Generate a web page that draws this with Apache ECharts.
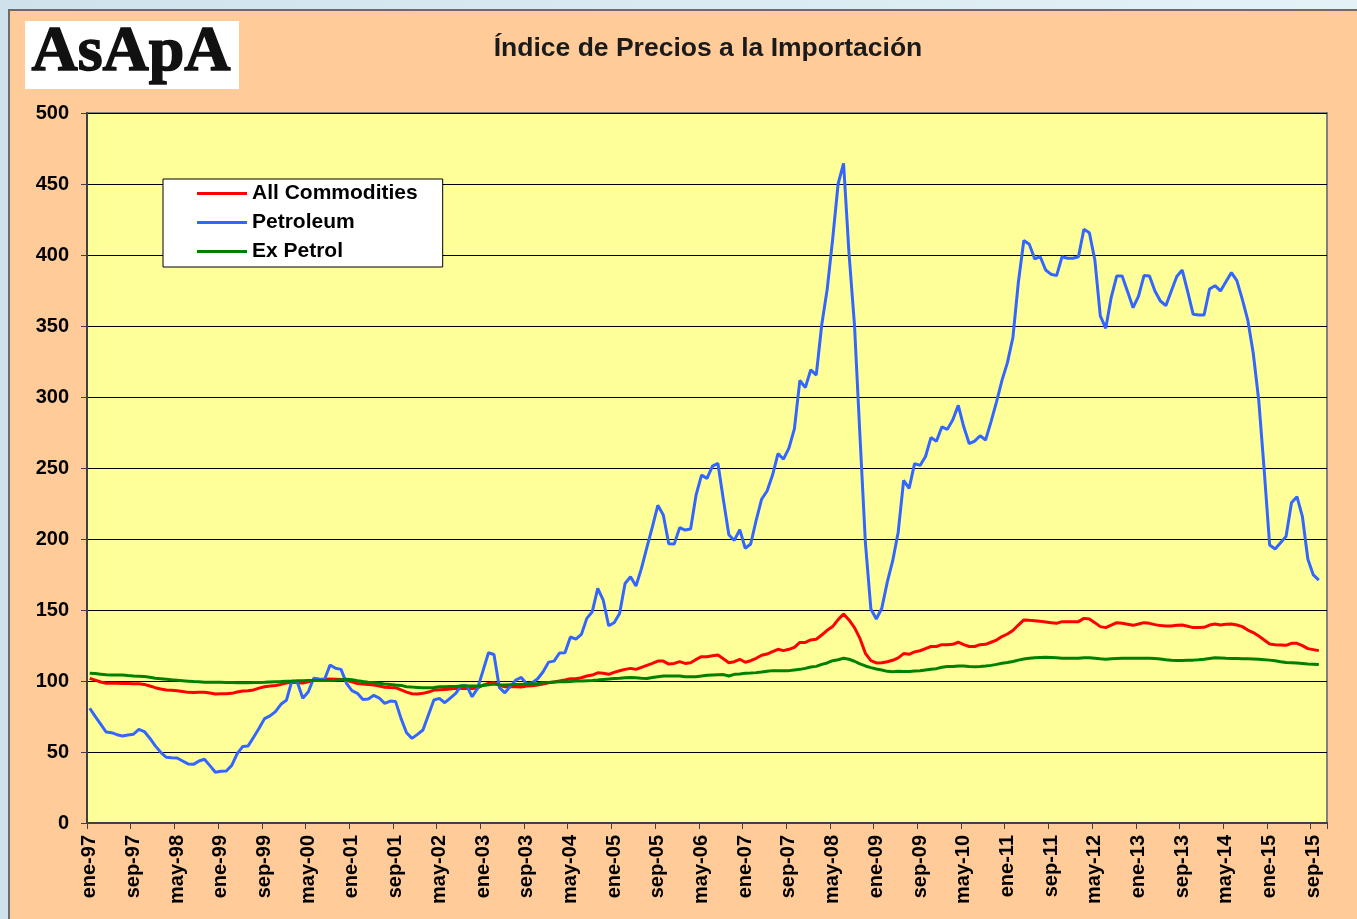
<!DOCTYPE html>
<html>
<head>
<meta charset="utf-8">
<title>Índice de Precios a la Importación</title>
<script src="https://cdn.jsdelivr.net/npm/echarts@6/dist/echarts.min.js"></script>
<style>
	html, body { margin:0; padding:0; width:1357px; height:919px; overflow:hidden; }
	body { background:linear-gradient(to right, #cfe2ec, #e4f2f8); }
	.panel { position:absolute; left:8px; top:9px; width:1360px; height:920px; background:#FFCC99; border:2px solid #6b6b6b; }
	#chart { position:absolute; left:0; top:0; width:1357px; height:919px; }
</style>
</head>
<body>
<div class="panel"></div>
<div id="chart"></div>
<script>
// meses ene-97 ... nov-15 (el ultimo sin dato)
var monthNames = ['ene','feb','mar','abr','may','jun','jul','ago','sep','oct','nov','dic'];
var firstYear = 1997;
var monthCount = 227;

var seriesNames = ['All Commodities','Petroleum','Ex Petrol'];

var allCommodities = [
	101.9,100.6,99.3,98.4,98.4,98.4,98.3,98.2,98.1,98,97.6,96.5,
	95.3,94.4,93.7,93.5,93.1,92.6,92,91.9,92,92,91.5,90.9,
	91,91.1,91.3,92.3,93,93.2,93.7,95,96,96.4,96.9,97.6,
	98.5,99.1,98.8,98.6,99.4,100.5,100.9,101.2,101.4,101.3,101,100.5,
	99.4,98.2,97.8,97.5,97.1,96.5,95.6,95.4,95.3,93.7,92.2,91,
	90.8,91.3,92.2,93.6,93.9,94.1,94.3,94.8,94.8,94.8,94.8,95.1,
	97,98.3,98.8,96.9,96,96,96,95.8,96.4,96.7,97.2,97.9,
	98.8,99.3,100,100.7,101.6,101.6,102.3,103.5,104.2,105.8,105.4,104.7,
	106.1,107.2,108.2,108.9,108.2,109.6,111,112.4,114,114,111.9,112.4,
	113.6,112.4,112.9,115.2,117.1,117.1,117.8,118.3,115.6,112.9,113.6,115.3,
	113.2,114.3,116,118.1,119,120.7,122.3,121.4,122.3,123.7,127.2,127.2,
	128.9,129.4,132.4,135.7,138.3,143.2,147.2,143,137.6,130,119.5,114.3,
	112.7,112.8,113.6,114.6,116.3,119.3,118.8,120.5,121.3,122.8,124.3,124.3,
	125.6,125.6,125.8,127.3,125.6,124.3,124.3,125.6,125.8,127.3,128.8,131.3,
	133.1,135.6,139.4,143,142.7,142.5,142,141.6,141.1,140.6,141.8,141.8,
	141.8,141.8,144.1,143.7,141.1,138.3,137.6,139.4,141.1,140.6,139.9,139.2,
	140.1,141.1,140.6,139.7,139,138.7,138.7,139.2,139.4,138.5,137.6,137.6,
	137.8,139.4,140.1,139.4,139.9,140.1,139.4,138.3,135.9,134.1,131.7,128.9,
	126.1,125.6,125.4,125.1,126.5,126.5,124.9,122.8,122.1,121.4
];

var petroleum = [
	80.8,75.1,69.7,64.1,63.6,62.2,61.3,62,62.5,66,64.4,59.7,
	54.3,49.8,46.3,46,45.8,43.7,41.6,41.3,43.7,44.9,40.4,35.7,
	36.4,36.6,40.6,48.9,53.8,54.3,60.4,66.7,73.5,75.4,78.4,83.6,
	86.4,100,99.3,87.8,92.3,101.9,101.4,101.2,111.3,109,108.2,98.4,
	93.2,91.3,86.9,87.3,89.9,88,84.3,85.9,85.5,73.5,63.6,59.6,
	62.4,65.5,76,86.6,87.8,84.7,88,91.3,96.7,96.7,88.9,94.8,
	107.3,119.9,118.7,95.3,91.7,96.2,100.7,102.5,97.9,98.8,101.6,106.5,
	113.3,114,119.7,119.9,131,129.5,132.8,144.1,148.8,165.2,157,138.9,
	141,147.6,168.7,173.4,166.9,179.3,194.1,208.6,223.7,216.9,196.7,196.4,
	208,206.3,207,231,245,242.7,251.3,253.2,227.6,203,199,206.6,
	193.5,196.5,213.2,228,233.8,245,260.2,256.2,264,277.5,311.7,306.6,
	319.2,315.4,350.7,375.8,411,450,464.6,401,350.7,272.7,197.2,150.7,
	143.7,151.2,169.6,184.7,204.8,241.3,235.7,253.1,251.8,258.1,271.4,268.9,
	279,277.2,284,294.1,279,267.2,268.9,272.7,269.7,282.7,296.6,311.7,
	324.2,341.9,380.8,410.2,407.5,397.2,398.8,389.4,386.4,385.5,398.8,397.7,
	397.7,398.8,418.1,415.7,396.5,357.1,348.4,370.2,385.2,385.2,374.2,362.9,
	371.1,385.5,385.2,374.7,367.6,364.3,374.7,384.8,389.4,374.2,358.2,357.8,
	357.8,376.1,378.4,374.7,381.2,387.6,381.9,368.8,354.2,330.8,297.9,248.6,
	195.8,193,197.4,201.7,225.6,229.8,215.7,185.7,174.7,171.1
];

var exPetrol = [
	105.4,105.2,104.8,104.4,104.3,104.3,104.2,103.8,103.5,103.3,103.1,102.7,
	102,101.6,101.2,100.8,100.5,100.2,99.9,99.6,99.4,99.2,99.1,99.1,
	99.1,99,98.9,98.8,98.8,98.8,98.9,99,99.1,99.3,99.5,99.6,
	99.8,99.9,100.1,100.2,100.3,100.3,100.3,100.3,100.4,100.6,100.9,101.2,
	100.9,100.2,99.6,99.1,98.8,98.4,97.9,97.6,97.2,96.9,96,95.7,
	95.5,95.3,95.3,95.5,96,96,96.2,96.2,96.4,96.4,96.4,96.4,
	96.9,97.4,97.9,97.4,97.2,97.4,97.6,97.6,97.9,98.1,98.3,98.8,
	99,99.3,99.5,99.5,99.7,100,100,100.2,100.4,100.7,101.1,101.4,
	101.8,102,102.3,102.5,102.3,102,101.8,102.5,103,103.5,103.5,103.5,
	103.5,103,103,103,103.5,104,104.2,104.4,104.5,103.5,104.7,104.9,
	105.4,105.6,105.9,106.3,106.8,107.3,107.3,107.3,107.3,107.8,108.2,108.9,
	109.9,110.3,111.7,112.7,114.3,115,116,115.3,113.9,112,110.6,109.4,
	108.5,107.8,106.8,106.6,106.8,106.7,106.7,107,107.2,107.7,108.2,108.7,
	109.7,110.2,110.2,110.5,110.5,110.2,110,110.2,110.5,111,111.7,112.5,
	113,113.7,114.7,115.5,116,116.3,116.5,116.7,116.6,116.3,116,116,
	116,116,116.4,116.4,116,115.6,115.4,115.6,115.8,116,116,116,
	116,116,116,115.8,115.5,115,114.6,114.4,114.4,114.6,114.7,114.9,
	115.3,115.9,116.4,116.2,116,115.9,115.8,115.7,115.6,115.5,115.3,115,
	114.7,114.2,113.6,113.1,112.9,112.6,112.3,112,111.8,111.6
];

var categories = [];
for (var i = 0; i < monthCount; i++) {
	var yy = (firstYear + Math.floor(i / 12)) % 100;
	categories.push(monthNames[i % 12] + '-' + (yy < 10 ? '0' + yy : '' + yy));
}

var fontFam = '"Liberation Sans", Arial, sans-serif';

var myChart = echarts.init(document.getElementById('chart'));
myChart.setOption({
	animation: false,
	graphic: [
		{
			type: 'rect',
			shape: { x: 25, y: 21, width: 214, height: 68 },
			style: { fill: '#ffffff' }
		},
		{
			type: 'text',
			x: 131, y: 53,
			style: {
				text: 'AsApA',
				font: 'bold 64px "Liberation Serif", serif',
				fill: '#111',
				stroke: '#111',
				lineWidth: 1.5,
				align: 'center',
				verticalAlign: 'middle'
			}
		},
		{
			type: 'text',
			x: 708, y: 49,
			style: {
				text: 'Índice de Precios a la Importación',
				font: 'bold 26.5px ' + fontFam,
				fill: '#1a1a1a',
				align: 'center',
				verticalAlign: 'middle'
			}
		}
	],
	legend: {
		left: 163,
		top: 179,
		orient: 'vertical',
		backgroundColor: '#ffffff',
		borderColor: '#000000',
		borderWidth: 1,
		borderRadius: 0,
		padding: [4, 25, 5, 34],
		itemWidth: 50,
		itemHeight: 3,
		itemGap: 8,
		itemTextGap: 8,
		icon: 'rect',
		selectedMode: false,
		textStyle: { fontSize: 21, fontWeight: 'bold', color: '#000', fontFamily: fontFam },
		data: seriesNames
	},
	grid: {
		left: 87, right: 30, top: 113, bottom: 96,
		show: true,
		backgroundColor: '#FFFF99',
		borderColor: '#808080',
		borderWidth: 2
	},
	xAxis: {
		type: 'category',
		data: categories,
		boundaryGap: true,
		axisLine: { lineStyle: { color: '#404040', width: 2 } },
		axisTick: { show: true, interval: 7, length: 6, lineStyle: { color: '#404040', width: 1 } },
		axisLabel: {
			interval: 7,
			rotate: 90,
			margin: 12,
			fontSize: 20,
			fontWeight: 'bold',
			color: '#000',
			fontFamily: fontFam
		},
		splitLine: { show: false }
	},
	yAxis: {
		type: 'value',
		min: 0,
		max: 500,
		interval: 50,
		axisLine: { show: true, lineStyle: { color: '#404040', width: 2 } },
		axisTick: { show: true, length: 6, lineStyle: { color: '#404040' } },
		axisLabel: { margin: 18, fontSize: 20, fontWeight: 'bold', color: '#000', fontFamily: fontFam },
		splitLine: { lineStyle: { color: '#000', width: 1 } }
	},
	series: [
		{
			name: seriesNames[0], type: 'line', data: allCommodities,
			symbol: 'none', showSymbol: false,
			itemStyle: { color: '#FF0000' },
			lineStyle: { color: '#FF0000', width: 3 }
		},
		{
			name: seriesNames[1], type: 'line', data: petroleum,
			symbol: 'none', showSymbol: false,
			itemStyle: { color: '#3366FF' },
			lineStyle: { color: '#3366FF', width: 3 }
		},
		{
			name: seriesNames[2], type: 'line', data: exPetrol,
			symbol: 'none', showSymbol: false,
			itemStyle: { color: '#008000' },
			lineStyle: { color: '#008000', width: 3 }
		}
	]
});
</script>
</body>
</html>
